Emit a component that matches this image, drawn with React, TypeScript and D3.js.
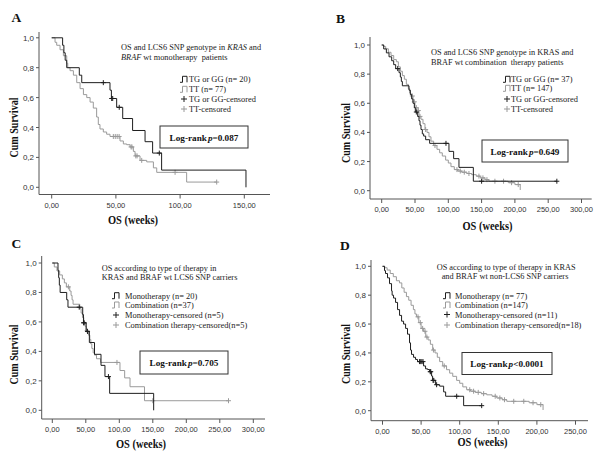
import React from "react";
import * as d3 from "d3";

// Kaplan-Meier steps: weeks at which survival drops, survival after the drop

// TG or GG, monotherapy (n=20)
const tgMonoTimes = [0, 8.5, 9.5, 10.5, 11.7, 21.5, 23.4, 45.4, 46.5, 50.6, 55.3, 63, 72.7, 78.6, 85.6, 151.3];
const tgMonoSurv = [1, 0.95, 0.9, 0.85, 0.8, 0.75, 0.7, 0.65, 0.594, 0.535, 0.46, 0.38, 0.305, 0.229, 0.115, 0];
const tgMonoCensor = [40.2, 46.7, 47.5, 52.6, 83.8];
const tgMonoEnd = 151.3;

// TT, monotherapy (n=77)
const ttMonoTimes = [0, 2.6, 3.9, 6.5, 9.1, 11.7, 12.5, 14.3, 16.9, 19.5, 22.1, 24.7, 27.3, 29.9, 32.4, 35, 36.3, 37.6, 40.2, 42.8, 45.4, 53.2, 55.8, 58.4, 61, 63.6, 64.9, 68.8, 74, 79.2, 81.8, 105.1];
const ttMonoSurv = [1, 0.97, 0.95, 0.92, 0.88, 0.83, 0.8, 0.78, 0.75, 0.7, 0.66, 0.62, 0.6, 0.57, 0.53, 0.47, 0.42, 0.39, 0.37, 0.355, 0.34, 0.31, 0.29, 0.285, 0.27, 0.24, 0.21, 0.18, 0.17, 0.13, 0.1, 0.035];
const ttMonoCensor = [48, 49.5, 51, 52.5, 61.8, 62.5, 65.5, 66.5, 70.1, 96.1, 128.5];
const ttMonoEnd = 128.5;

// TG or GG, combination (n=37)
const tgCombTimes = [0, 3, 7, 11, 15, 18, 21, 26, 28, 29.5, 31, 41, 43, 45, 47, 49, 50.5, 54, 56, 57.5, 59, 61, 63, 66, 72, 101, 108, 116, 137.6];
const tgCombSurv = [1, 0.973, 0.946, 0.919, 0.892, 0.865, 0.838, 0.81, 0.78, 0.75, 0.72, 0.69, 0.66, 0.63, 0.6, 0.57, 0.54, 0.51, 0.48, 0.45, 0.42, 0.39, 0.375, 0.35, 0.325, 0.27, 0.22, 0.16, 0.065];
const tgCombCensor = [24, 52, 96.5, 150, 263];
const tgCombEnd = 263;

// TT, combination (n=147)
const ttCombTimes = [0, 3, 6, 10, 14, 18, 22, 25, 28, 31, 34, 37, 40, 42, 44, 47, 50, 53, 56, 59, 62, 65, 68, 71, 74, 78, 83, 87, 91, 96, 100, 104, 109, 114, 120, 128, 135, 142, 148, 155, 161, 190, 200, 208];
const ttCombSurv = [1, 0.99, 0.974, 0.95, 0.928, 0.9, 0.885, 0.85, 0.82, 0.79, 0.765, 0.73, 0.7, 0.67, 0.65, 0.61, 0.57, 0.55, 0.51, 0.49, 0.46, 0.42, 0.4, 0.37, 0.34, 0.31, 0.284, 0.26, 0.238, 0.21, 0.19, 0.165, 0.145, 0.135, 0.127, 0.118, 0.11, 0.1, 0.088, 0.076, 0.065, 0.055, 0.042, 0.005];
const ttCombCensor = [46, 49, 52, 55, 57.5, 66, 80, 113, 118, 124, 131, 146, 152, 158, 170, 183, 195, 205];
const ttCombEnd = 208;

const yTicks = [0, 0.2, 0.4, 0.6, 0.8, 1.0];
const xTicksShort = [0, 50, 100, 150];
const xTicksMid = [0, 50, 100, 150, 200, 250];
const xTicksLong = [0, 50, 100, 150, 200, 250, 300];

const legendA = ["TG or GG (n= 20)", "TT (n= 77)", "TG or GG-censored", "TT-censored"];
const legendB = ["TG or GG (n= 37)", "TT (n= 147)", "TG or GG-censored", "TT-censored"];
const legendC = ["Monotherapy (n= 20)", "Combination (n=37)", "Monotherapy-censored (n=5)", "Combination therapy-censored(n=5)"];
const legendD = ["Monotherapy (n= 77)", "Combination (n=147)", "Monotherapy-censored (n=11)", "Combination therapy-censored(n=18)"];

const pValues = ["=0.087", "=0.649", "=0.705", "<0.0001"];

const BLACK = "#1e1e1e";
const GRAY = "#9a9a9a";
const SERIF = "'Liberation Serif', 'Times New Roman', serif";
const SANS = "'Liberation Sans', Arial, sans-serif";

type Curve = { times: number[]; surv: number[]; censor: number[]; end: number };
const tgMono: Curve = { times: tgMonoTimes, surv: tgMonoSurv, censor: tgMonoCensor, end: tgMonoEnd };
const ttMono: Curve = { times: ttMonoTimes, surv: ttMonoSurv, censor: ttMonoCensor, end: ttMonoEnd };
const tgComb: Curve = { times: tgCombTimes, surv: tgCombSurv, censor: tgCombCensor, end: tgCombEnd };
const ttComb: Curve = { times: ttCombTimes, surv: ttCombSurv, censor: ttCombCensor, end: ttCombEnd };

type Seg = [string, boolean];

const panels = [
  {
    letter: "A", lx: 11.5, ly: 22,
    x0: 51.7, per50: 64.2, y1: 37.8, y0: 187.3,
    axL: 39, axT: 32, axB: 194.5, axR: 270, xTicks: xTicksShort,
    black: tgMono, gray: ttMono,
    title: [
      [["OS and LCS6 SNP genotype in ", false], ["KRAS", true], [" and", false]],
      [["BRAF", true], [" wt monotherapy  patients", false]],
    ] as Seg[][],
    tx: [121, 121], ty: [50, 60],
    legend: legendA, symX: 180, textX: 189, legY: [79.3, 89.3, 99, 109],
    box: [160, 126, 88, 22], p: pValues[0],
    xt: [133, 224], yt: [18, 127.5],
  },
  {
    letter: "B", lx: 336, ly: 22.7,
    x0: 381.7, per50: 33.3, y1: 45, y0: 190.7,
    axL: 370, axT: 37, axB: 199, axR: 591.7, xTicks: xTicksLong,
    black: tgComb, gray: ttComb,
    title: [
      [["OS and LCS6 SNP genotype in KRAS and", false]],
      [["BRAF wt combination  therapy patients", false]],
    ] as Seg[][],
    tx: [431, 431], ty: [55.3, 64.7],
    legend: legendB, symX: 503, textX: 511, legY: [79.3, 88.3, 99, 109],
    box: [482, 140, 86, 22], p: pValues[1],
    xt: [487.5, 229.5], yt: [350, 133],
  },
  {
    letter: "C", lx: 11.5, ly: 248,
    x0: 52.3, per50: 33.5, y1: 263, y0: 410.3,
    axL: 41.7, axT: 256, axB: 419, axR: 265, xTicks: xTicksLong,
    black: tgMono, gray: tgComb,
    title: [
      [["OS according to type of therapy in", false]],
      [["KRAS and BRAF wt LCS6 SNP carriers", false]],
    ] as Seg[][],
    tx: [101.7, 101.7], ty: [271.3, 280.3],
    legend: legendC, symX: 112, textX: 125, legY: [295.7, 305, 315, 325],
    box: [140, 351, 88, 23], p: pValues[2],
    xt: [141, 448], yt: [18.3, 354.5],
  },
  {
    letter: "D", lx: 340, ly: 249.7,
    x0: 382.5, per50: 38.6, y1: 266.3, y0: 410.7,
    axL: 371, axT: 260, axB: 420.7, axR: 588, xTicks: xTicksMid,
    black: ttMono, gray: ttComb,
    title: [
      [["OS according to type of therapy in KRAS", false]],
      [["and BRAF wt non-LCS6 SNP carriers", false]],
    ] as Seg[][],
    tx: [436.7, 441.7], ty: [269.7, 278.7],
    legend: legendD, symX: 443, textX: 455, legY: [295.7, 305, 314.5, 325],
    box: [462, 352.5, 90, 22], p: pValues[3],
    xt: [482.5, 446.3], yt: [350, 354],
  },
];

const fmtY = (v: number) => v.toFixed(1).replace(".", ",");
const fmtX = (v: number) => v.toFixed(2).replace(".", ",");

function Panel({ p }: { p: (typeof panels)[number] }) {
  const x = d3.scaleLinear().domain([0, 50]).range([p.x0, p.x0 + p.per50]);
  const y = d3.scaleLinear().domain([0, 1]).range([p.y0, p.y1]);
  const line = d3
    .line<[number, number]>()
    .x((d) => x(d[0]))
    .y((d) => y(d[1]))
    .curve(d3.curveStepAfter);

  const stepPoints = (c: Curve): [number, number][] => {
    const pts = c.times.map((t, i) => [t, c.surv[i]] as [number, number]);
    pts.push([c.end, c.surv[c.surv.length - 1]]);
    return pts;
  };
  const survAt = (c: Curve, t: number) => c.surv[Math.max(0, d3.bisectRight(c.times, t) - 1)];

  const curveEl = (c: Curve, color: string) => (
    <g>
      <path d={line(stepPoints(c)) || ""} fill="none" stroke={color} strokeWidth={1} />
      {c.censor.map((t, i) => {
        const cx = x(t);
        const cy = y(survAt(c, t));
        return (
          <path key={i} d={`M${cx - 2.5},${cy}H${cx + 2.5}M${cx},${cy - 2.5}V${cy + 2.5}`} stroke={color} strokeWidth={1} />
        );
      })}
    </g>
  );

  const colors = [BLACK, GRAY, BLACK, GRAY];

  return (
    <g>
      <text x={p.lx} y={p.ly} fontFamily={SERIF} fontWeight="bold" fontSize={13.5} fill="#111">
        {p.letter}
      </text>

      {/* axes */}
      <path d={`M${p.axL},${p.axT}V${p.axB}H${p.axR}`} fill="none" stroke="#555" strokeWidth={1} />
      {yTicks.map((v) => (
        <g key={v}>
          <line x1={p.axL - 3} x2={p.axL} y1={y(v)} y2={y(v)} stroke="#555" />
          <text x={p.axL - 5} y={y(v) + 3} textAnchor="end" fontFamily={SANS} fontSize={8} fill="#333">
            {fmtY(v)}
          </text>
        </g>
      ))}
      {p.xTicks.map((v) => (
        <g key={v}>
          <line x1={x(v)} x2={x(v)} y1={p.axB} y2={p.axB + 4} stroke="#555" />
          <text x={x(v)} y={p.axB + 13} textAnchor="middle" fontFamily={SANS} fontSize={7.5} fill="#333">
            {fmtX(v)}
          </text>
        </g>
      ))}
      <text
        x={p.xt[0]} y={p.xt[1]} textAnchor="middle" fontFamily={SERIF} fontWeight="bold" fontSize={13}
        textLength={50} lengthAdjust="spacingAndGlyphs" fill="#111"
      >
        OS (weeks)
      </text>
      <text
        transform={`translate(${p.yt[0]},${p.yt[1]}) rotate(-90)`} textAnchor="middle" fontFamily={SERIF}
        fontWeight="bold" fontSize={13} textLength={60} lengthAdjust="spacingAndGlyphs" fill="#111"
      >
        Cum Survival
      </text>

      {/* curves */}
      {curveEl(p.gray, GRAY)}
      {curveEl(p.black, BLACK)}

      {/* description */}
      {p.title.map((segs, i) => (
        <text key={i} x={p.tx[i]} y={p.ty[i]} fontFamily={SERIF} fontSize={8.3} fill="#222" xmlSpace="preserve">
          {segs.map((s, j) => (
            <tspan key={j} fontStyle={s[1] ? "italic" : "normal"}>
              {s[0]}
            </tspan>
          ))}
        </text>
      ))}

      {/* legend */}
      {p.legend.map((label, i) => {
        const ly = p.legY[i];
        const sx = p.symX;
        const sym =
          i < 2 ? (
            <path d={`M${sx},${ly + 3}H${sx + 2.5}V${ly - 3}H${sx + 7}V${ly + 3}`} fill="none" stroke={colors[i]} strokeWidth={1} />
          ) : (
            <path d={`M${sx + 1},${ly}H${sx + 7}M${sx + 4},${ly - 3}V${ly + 3}`} stroke={colors[i]} strokeWidth={1} />
          );
        return (
          <g key={i}>
            {sym}
            <text x={p.textX} y={ly + 3} fontFamily={SERIF} fontSize={8.4} fill="#222">
              {label}
            </text>
          </g>
        );
      })}

      {/* log-rank box */}
      <rect x={p.box[0]} y={p.box[1]} width={p.box[2]} height={p.box[3]} fill="#fff" stroke="#333" strokeWidth={1} />
      <text
        x={p.box[0] + p.box[2] / 2} y={p.box[1] + p.box[3] / 2 + 3.5} textAnchor="middle"
        fontFamily={SERIF} fontWeight="bold" fontSize={9.2} fill="#111"
      >
        Log-rank<tspan fontStyle="italic" dx={1}>p</tspan>
        {p.p}
      </text>
    </g>
  );
}

export default function App() {
  return (
    <svg width={600} height={456} style={{ position: "absolute", left: 0, top: 0, background: "#fff" }}>
      <rect width={600} height={456} fill="#fff" />
      {panels.map((p) => (
        <Panel key={p.letter} p={p} />
      ))}
    </svg>
  );
}
